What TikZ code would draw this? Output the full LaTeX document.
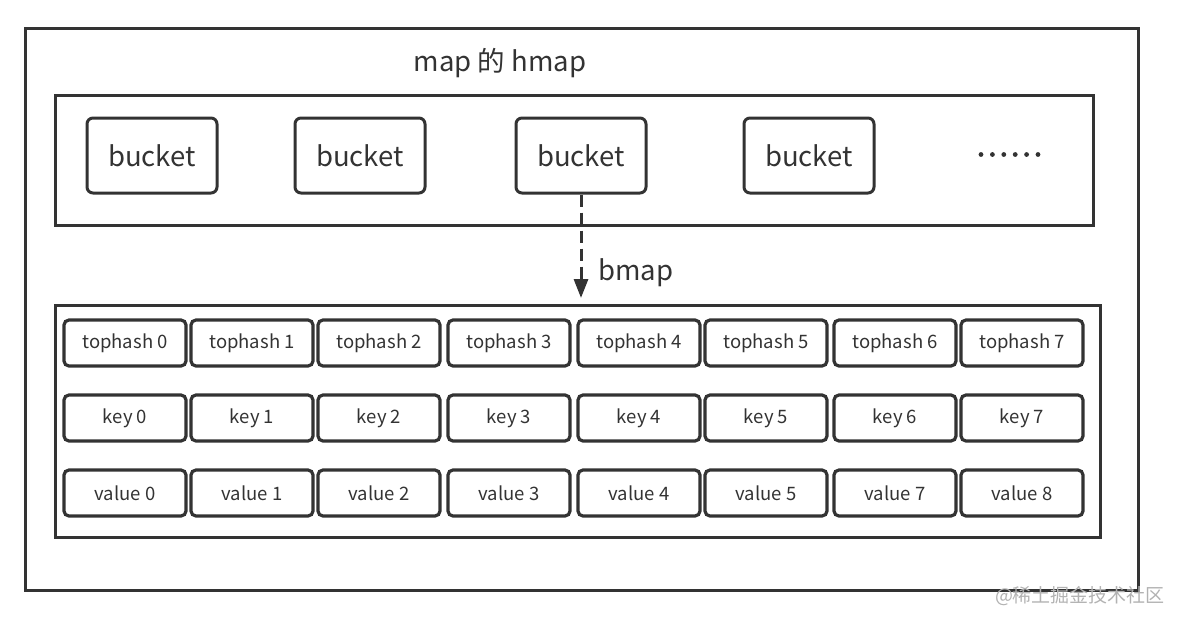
\documentclass[tikz,border=0pt]{standalone}
\usepackage{fontspec}
\setmainfont{Noto Sans CJK SC}
\usetikzlibrary{arrows.meta}
\definecolor{ln}{HTML}{333333}
\tikzset{
  framebox/.style={draw=ln, line width=3pt, inner sep=0pt},
  bucketbox/.style={draw=ln, line width=3pt, rounded corners=6pt, minimum width=130pt, minimum height=75pt, font=\fontsize{27.5}{32}\selectfont, text=ln, inner sep=0pt},
  cell/.style={draw=ln, line width=3.2pt, rounded corners=5pt, minimum width=122pt, minimum height=46pt, font=\fontsize{18.5}{22}\selectfont, text=ln, inner sep=0pt},
  lbl/.style={font=\fontsize{27.5}{32}\selectfont, text=ln, inner sep=0pt},
  link/.style={draw=ln, line width=3pt, dash pattern=on 12pt off 6pt, -{Triangle[length=19pt,width=14pt]}}
}
\begin{document}
\begin{tikzpicture}[x=1pt,y=-1pt]
\useasboundingbox (0,0) rectangle (1179,625);
\node[framebox, minimum width=1113pt, minimum height=562pt] (outer) at (581.5,309) {};
\node[lbl] (title) at (500,63) {map 的 hmap};
\node[framebox, minimum width=1038pt, minimum height=130pt] (hmap) at (574,160) {};
\node[bucketbox] (b1) at (152,155.5) {bucket};
\node[bucketbox] (b2) at (360,155.5) {bucket};
\node[bucketbox] (b3) at (581,155.5) {bucket};
\node[bucketbox] (b4) at (809,155.5) {bucket};
\foreach \k in {0,...,5}{
  \fill[ln] (981+11.4*\k,154.5) circle (2.4pt);
}
\node[framebox, minimum width=1045pt, minimum height=232pt] (bmap) at (577.5,421) {};
\coordinate (tip) at (581,298);
\draw[link] (b3.south) -- (tip);
\node[lbl, anchor=west] (bl) at (598,273) {bmap};
\foreach \x/\i in {125/0,252/1,379/2,509/3,639/4,766/5,895/6,1022/7}{
  \node[cell] (t\i) at (\x,343) {tophash \i};
  \node[cell] (k\i) at (\x,418) {key \i};
}
\foreach \x/\i/\v in {125/0/0,252/1/1,379/2/2,509/3/3,639/4/4,766/5/5,895/6/7,1022/7/8}{
  \node[cell] (v\i) at (\x,493) {value \v};
}
\node[font=\fontsize{19}{22}\selectfont, text=black!30, inner sep=0pt] (wm) at (1080,596) {@稀土掘金技术社区};
\end{tikzpicture}
\end{document}
